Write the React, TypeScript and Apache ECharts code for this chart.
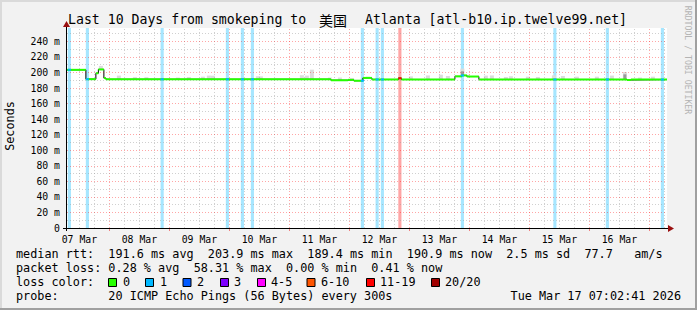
import { useEffect, useRef } from 'react';
import * as echarts from 'echarts';

// ---- time frame (hours since 07 Mar 00:00) ----
const START_H = 7 + 2 / 60 + 41 / 3600;
const END_H = START_H + 240;
const Y_MAX = 257.2;

// ---- axis ticks / labels ----
const dayLabels = ['07 Mar', '08 Mar', '09 Mar', '10 Mar', '11 Mar', '12 Mar', '13 Mar', '14 Mar', '15 Mar', '16 Mar'];
const dayLabelHours = [12, 36, 60, 84, 108, 132, 156, 180, 204, 228];
const yLabelValues = [0, 20, 40, 60, 80, 100, 120, 140, 160, 180, 200, 220, 240];

// ---- median rtt (ms), step segments: start hour + value ----
const medianStart = [7.04, 14.6, 18.6, 19.6, 21.8, 22.6, 112.6, 119.4, 121.8, 125.4, 129.0, 139.6, 140.8, 162.2, 165.0, 167.0, 171.8, 231.0, 232.6];
const medianValue = [203.4, 191.4, 199.0, 203.9, 192.8, 191.2, 190.0, 190.5, 189.4, 193.0, 191.0, 192.6, 191.0, 195.0, 196.2, 194.8, 191.0, 190.3, 190.9];

// ---- packet loss events: hour + loss class index ----
const lossTime = [8.0, 15.2, 45.1, 71.2, 77.2, 81.2, 125.2, 131.1, 133.2, 140.2, 165.2, 202.2, 223.2, 245.2];
const lossLevel = [1, 1, 1, 1, 1, 1, 1, 1, 1, 6, 1, 1, 1, 1];

// ---- smoke (ping spread) tops ----
const smokeTime = [20.6, 27.8, 34.2, 38.8, 51.4, 55.8, 61.4, 63.8, 65.4, 83.4, 84.6, 101.0, 103.0, 105.0, 112.2, 116.2, 121.0, 127.4, 144.6, 151.4, 156.6, 159.4, 165.2, 167.4, 174.6, 177.0, 182.6, 184.6, 191.4, 195.4, 201.8, 205.4, 211.0, 219.0, 225.0, 230.2, 236.2, 241.4];
const smokeTop = [208.5, 196.0, 194.0, 194.0, 193.5, 194.2, 194.6, 196.0, 195.9, 195.0, 195.0, 196.5, 196.0, 203.6, 193.5, 193.5, 193.0, 194.6, 195.0, 196.2, 197.2, 195.5, 205.0, 197.0, 196.0, 196.2, 194.2, 195.0, 194.6, 194.2, 196.3, 195.5, 194.6, 194.6, 196.0, 200.6, 193.5, 194.6];
const darkSmokeTime = [165.2, 230.2];
const darkSmokeTop = [201.5, 197.6];

// ---- legend ----
const lossLabels = ['0', '1', '2', '3', '4-5', '6-10', '11-19', '20/20'];
const lossColors = ['#26ff00', '#00b8ff', '#0059ff', '#7e00ff', '#ff00ff', '#ff5500', '#ff0000', '#a10000'];
const rttStats = ['191.6', '203.9', '189.4', '190.9'];
const rttSd = '2.5';
const amS = '77.7';
const lossStats = ['0.28', '58.31', '0.00', '0.41'];
const probeText = '20 ICMP Echo Pings (56 Bytes) every 300s';
const stampText = 'Tue Mar 17 07:02:41 2026';

const MONO = '"DejaVu Sans Mono", monospace';

function lighten(hex: string, a: number) {
  const r = parseInt(hex.slice(1, 3), 16), g = parseInt(hex.slice(3, 5), 16), b = parseInt(hex.slice(5, 7), 16);
  const f = (c: number) => Math.round(255 - (255 - c) * a);
  return `rgb(${f(r)},${f(g)},${f(b)})`;
}

function valueAt(t: number) {
  let v = medianValue[0];
  for (let i = 0; i < medianStart.length; i++) if (medianStart[i] <= t) v = medianValue[i];
  return v;
}

function phraseTexts(line: string, x0: number, y: number, charW: number, fontSize: number) {
  const out: any[] = [];
  const re = /\S+(?: \S+)*/g;
  let m: RegExpExecArray | null;
  while ((m = re.exec(line))) {
    out.push({
      type: 'text', x: x0 + m.index * charW, y, silent: true,
      style: { text: m[0], fontFamily: MONO, fontSize, fill: '#000', align: 'left', verticalAlign: 'middle' },
    });
  }
  return out;
}

export default function App() {
  const ref = useRef<HTMLDivElement>(null);

  useEffect(() => {
    if (!ref.current) return;
    const chart = echarts.init(ref.current, undefined, { renderer: 'svg' });

    const minorStyle = { color: 'rgba(150,150,150,0.45)', type: [1, 2], width: 1 };
    const majorStyle = { color: 'rgba(255,0,0,0.35)', type: [1, 2], width: 1 };
    const gridLines: any[] = [];
    for (let h = 6; h < END_H; h += 6) {
      if (h <= START_H) continue;
      gridLines.push({ xAxis: h, lineStyle: h % 24 === 0 ? majorStyle : minorStyle });
    }
    for (let v = 10; v < Y_MAX; v += 10) {
      gridLines.push({ yAxis: v, lineStyle: v % 20 === 0 ? majorStyle : minorStyle });
    }
    const midnights: number[] = [];
    for (let h = 24; h < END_H; h += 24) midnights.push(h);

    const medianSegments = medianStart.map((s, i) => [s, i + 1 < medianStart.length ? medianStart[i + 1] : END_H, medianValue[i]]);
    const medianStep = [...medianStart.map((s, i) => [s, medianValue[i]]), [END_H, medianValue[medianValue.length - 1]]];
    const HALF = 0.625;

    const rowCharW = 7.105;
    const LEG = 11.8;
    const rows = [253.8, 267.8, 281.8, 295.5];
    const row1 = `median rtt:  ${rttStats[0]} ms avg  ${rttStats[1]} ms max  ${rttStats[2]} ms min  ${rttStats[3]} ms now  ${rttSd} ms sd  ${amS}   am/s`;
    const row2 = `packet loss: ${lossStats[0]} % avg  ${lossStats[1]} % max  ${lossStats[2]} % min  ${lossStats[3]} % now`;
    const boxX = [108, 145, 182.5, 220, 257, 306.5, 366, 431];
    const labelX = [123, 160, 197, 234, 271, 321, 380, 445];

    const graphic: any[] = [
      // frame
      { type: 'rect', shape: { x: 0, y: 0, width: 697, height: 2 }, style: { fill: '#dadada' }, silent: true },
      { type: 'rect', shape: { x: 0, y: 0, width: 2, height: 310 }, style: { fill: '#dadada' }, silent: true },
      { type: 'rect', shape: { x: 0, y: 308, width: 697, height: 2 }, style: { fill: '#a0a0a0' }, silent: true },
      { type: 'rect', shape: { x: 695, y: 0, width: 2, height: 310 }, style: { fill: '#a0a0a0' }, silent: true },
      // axes
      { type: 'line', z: 100, shape: { x1: 63, y1: 228.5, x2: 670, y2: 228.5 }, style: { stroke: '#000', lineWidth: 1 }, silent: true },
      { type: 'line', z: 100, shape: { x1: 66.5, y1: 231, x2: 66.5, y2: 25 }, style: { stroke: '#000', lineWidth: 1 }, silent: true },
      { type: 'polygon', z: 101, shape: { points: [[668, 225], [674, 228.5], [668, 232]] }, style: { fill: '#9a1010' }, silent: true },
      { type: 'polygon', z: 101, shape: { points: [[63, 27], [66.5, 21], [70, 27]] }, style: { fill: '#9a1010' }, silent: true },
      // title
      { type: 'text', x: 68, y: 19.5, silent: true, style: { text: 'Last 10 Days from smokeping to', fontFamily: MONO, fontSize: 13.2, fill: '#000', verticalAlign: 'middle' } },
      { type: 'text', x: 319, y: 19.5, silent: true, style: { text: '美国', fontFamily: '"Noto Sans CJK SC"', fontSize: 14, fill: '#000', verticalAlign: 'middle' } },
      { type: 'text', x: 365, y: 19.5, silent: true, style: { text: 'Atlanta [atl-b10.ip.twelve99.net]', fontFamily: MONO, fontSize: 13.2, fill: '#000', verticalAlign: 'middle' } },
      // y name
      { type: 'text', x: 10, y: 126, rotation: Math.PI / 2, silent: true, style: { text: 'Seconds', fontFamily: MONO, fontSize: 11.8, fill: '#000', align: 'center', verticalAlign: 'middle' } },
      // watermark
      { type: 'text', x: 688, y: 60, rotation: -Math.PI / 2, silent: true, style: { text: 'RRDTOOL / TOBI OETIKER', fontFamily: MONO, fontSize: 8.2, fill: '#b4b4b4', align: 'center', verticalAlign: 'middle' } },
      ...phraseTexts(row1, 16, rows[0], rowCharW, LEG),
      ...phraseTexts(row2, 16, rows[1], rowCharW, LEG),
      ...phraseTexts('loss color:', 16, rows[2], rowCharW, LEG),
      ...phraseTexts('probe:', 16, rows[3], rowCharW, LEG),
      ...phraseTexts(probeText, 16 + 13 * rowCharW, rows[3], rowCharW, LEG),
      { type: 'text', x: 681, y: rows[3], silent: true, style: { text: stampText, fontFamily: MONO, fontSize: LEG, fill: '#000', align: 'right', verticalAlign: 'middle' } },
    ];
    lossLabels.forEach((lab, i) => {
      graphic.push({ type: 'rect', silent: true, shape: { x: boxX[i] + 0.5, y: 278.5, width: 8, height: 8 }, style: { fill: lossColors[i], stroke: '#000', lineWidth: 1 } });
      graphic.push({ type: 'text', x: labelX[i], y: rows[2], silent: true, style: { text: lab, fontFamily: MONO, fontSize: LEG, fill: '#000', verticalAlign: 'middle' } });
    });

    const option: any = {
      animation: false,
      backgroundColor: '#f2f2f2',
      grid: { left: 67, top: 28, width: 600, height: 200, show: true, backgroundColor: '#ffffff', borderWidth: 0, containLabel: false, outerBoundsMode: 'none' },
      xAxis: {
        type: 'value', min: START_H, max: END_H,
        axisLine: { show: false },
        splitLine: { show: false },
        axisTick: { show: true, customValues: midnights, length: 3, lineStyle: { color: '#f08080' } },
        axisLabel: {
          customValues: dayLabelHours,
          formatter: (v: number) => {
            const i = dayLabelHours.findIndex((h) => Math.abs(h - v) < 0.01);
            return i >= 0 ? dayLabels[i] : '';
          },
          fontFamily: MONO, fontSize: 9.8, color: '#000', margin: 6,
        },
      },
      yAxis: {
        type: 'value', min: 0, max: Y_MAX,
        axisLine: { show: false }, axisTick: { show: false }, splitLine: { show: false },
        axisLabel: {
          customValues: yLabelValues,
          formatter: (v: number) => (v === 0 ? '0' : `${v} m`),
          fontFamily: MONO, fontSize: 9.8, color: '#000', margin: 7,
        },
      },
      series: [
        {
          type: 'line', z: 1, silent: true, data: [[START_H, 0]], showSymbol: false, lineStyle: { opacity: 0 },
          markLine: { silent: true, symbol: ['none', 'none'], label: { show: false }, animation: false, data: gridLines },
        },
        {
          type: 'custom', z: 2, silent: true, clip: true,
          data: lossTime.map((t, i) => [t, lossLevel[i]]),
          encode: { x: 0, y: 1 },
          renderItem: (_p: any, api: any) => {
            const t = api.value(0), lvl = api.value(1);
            const a = api.coord([t - HALF, Y_MAX]);
            const b = api.coord([t + HALF, 0]);
            return { type: 'rect', shape: { x: a[0], y: a[1], width: b[0] - a[0], height: b[1] - a[1] }, style: { fill: lighten(lossColors[lvl], 0.35) } };
          },
        },
        {
          type: 'custom', z: 3, silent: true, clip: true,
          data: smokeTime.map((t, i) => [t, smokeTop[i], valueAt(t)]),
          encode: { x: 0, y: [1, 2] },
          renderItem: (_p: any, api: any) => {
            const t = api.value(0);
            const a = api.coord([t - 0.8, api.value(1)]);
            const b = api.coord([t + 0.8, api.value(2)]);
            return { type: 'rect', shape: { x: a[0], y: a[1], width: b[0] - a[0], height: b[1] - a[1] }, style: { fill: '#dcdcdc' } };
          },
        },
        {
          type: 'custom', z: 3, silent: true, clip: true,
          data: darkSmokeTime.map((t, i) => [t, darkSmokeTop[i], valueAt(t)]),
          encode: { x: 0, y: [1, 2] },
          renderItem: (_p: any, api: any) => {
            const t = api.value(0);
            const a = api.coord([t - 0.6, api.value(1)]);
            const b = api.coord([t + 0.6, api.value(2)]);
            return { type: 'rect', shape: { x: a[0], y: a[1], width: b[0] - a[0], height: b[1] - a[1] }, style: { fill: '#9a9a9a' } };
          },
        },
        {
          type: 'line', z: 4, silent: true, step: 'end', showSymbol: false, symbol: 'none',
          data: medianStep, lineStyle: { color: '#000', width: 1 },
        },
        {
          type: 'custom', z: 5, silent: true, clip: true,
          data: medianSegments,
          encode: { x: [0, 1], y: 2 },
          renderItem: (_p: any, api: any) => {
            const a = api.coord([api.value(0), api.value(2)]);
            const b = api.coord([api.value(1), api.value(2)]);
            return { type: 'rect', shape: { x: a[0], y: a[1] - 1, width: b[0] - a[0], height: 2 }, style: { fill: lossColors[0] } };
          },
        },
        {
          type: 'custom', z: 6, silent: true, clip: true,
          data: lossTime.map((t, i) => [t, valueAt(t), lossLevel[i]]),
          encode: { x: 0, y: 1 },
          renderItem: (_p: any, api: any) => {
            const t = api.value(0);
            const a = api.coord([t - HALF, api.value(1)]);
            const b = api.coord([t + HALF, api.value(1)]);
            return { type: 'rect', shape: { x: a[0], y: a[1] - 1, width: b[0] - a[0], height: 2 }, style: { fill: lossColors[api.value(2)] } };
          },
        },
      ],
      graphic,
    };

    chart.setOption(option);
    return () => chart.dispose();
  }, []);

  return <div ref={ref} style={{ position: 'absolute', left: 0, top: 0, width: 697, height: 310 }} />;
}
